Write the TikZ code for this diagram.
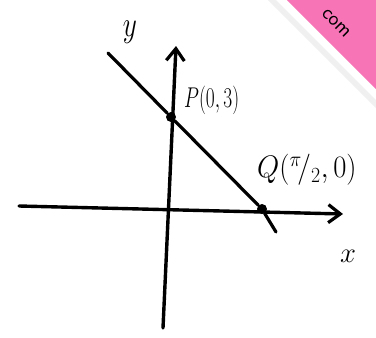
\documentclass[tikz,border=0pt]{standalone}
\usetikzlibrary{arrows.meta}
\definecolor{ribbonpink}{RGB}{247,116,182}
\begin{document}
\begin{tikzpicture}[
    x=1pt, y=-1pt,
    axis/.style={
        line width=3.4pt,
        line cap=round,
        -{Straight Barb[length=12pt,width=18pt,line width=3.2pt]}
    },
    graphline/.style={
        line width=3.2pt,
        line cap=round
    },
    dot/.style={
        circle,
        fill=black,
        inner sep=0pt,
        minimum size=10pt
    },
    label/.style={
        font=\fontsize{26}{26}\selectfont,
        text=black,
        inner sep=0pt
    }
]

% Bounding box
\useasboundingbox (0,0) rectangle (376,338);
\fill[white] (0,0) rectangle (376,338);

% Corner ribbon
\fill[gray!12] (276,0) -- (376,100) -- (376,108) -- (268,0) -- cycle;
\fill[ribbonpink] (287,0) -- (376,89) -- (376,0) -- cycle;
\node[font=\huge\sffamily, rotate=-45, inner sep=0pt] (ribbontext) at (336,23) {com};

% Axes
\coordinate (xstart) at (19,206);
\coordinate (xend) at (343,214);
\coordinate (ystart) at (163,328);
\coordinate (yend) at (176,46);
\draw[axis] (xstart) -- (xend);
\draw[axis] (ystart) -- (yend);

% Points
\node[dot] (P) at (171,117) {};
\node[dot] (Q) at (262,209) {};

% Line through P and Q
\coordinate (linetop) at (108,53);
\coordinate (linebottom) at (276,232);
\draw[graphline] (linetop) -- (P) -- (Q) -- (linebottom);

% Labels
\node[label] (ylabel) at (130,32) {\scalebox{1.1}[1.45]{$y$}};
\node[label] (xlabel) at (348,256) {\scalebox{1.15}[1.15]{$x$}};
\node[label, anchor=west] (Plabel) at (184,100) {\scalebox{0.78}[1.15]{$P(0,3)$}};
\node[label, anchor=west] (Qlabel) at (257,170) {\scalebox{1.15}[1.25]{$Q(^{\pi}\!/_{2},0)$}};

\end{tikzpicture}
\end{document}
